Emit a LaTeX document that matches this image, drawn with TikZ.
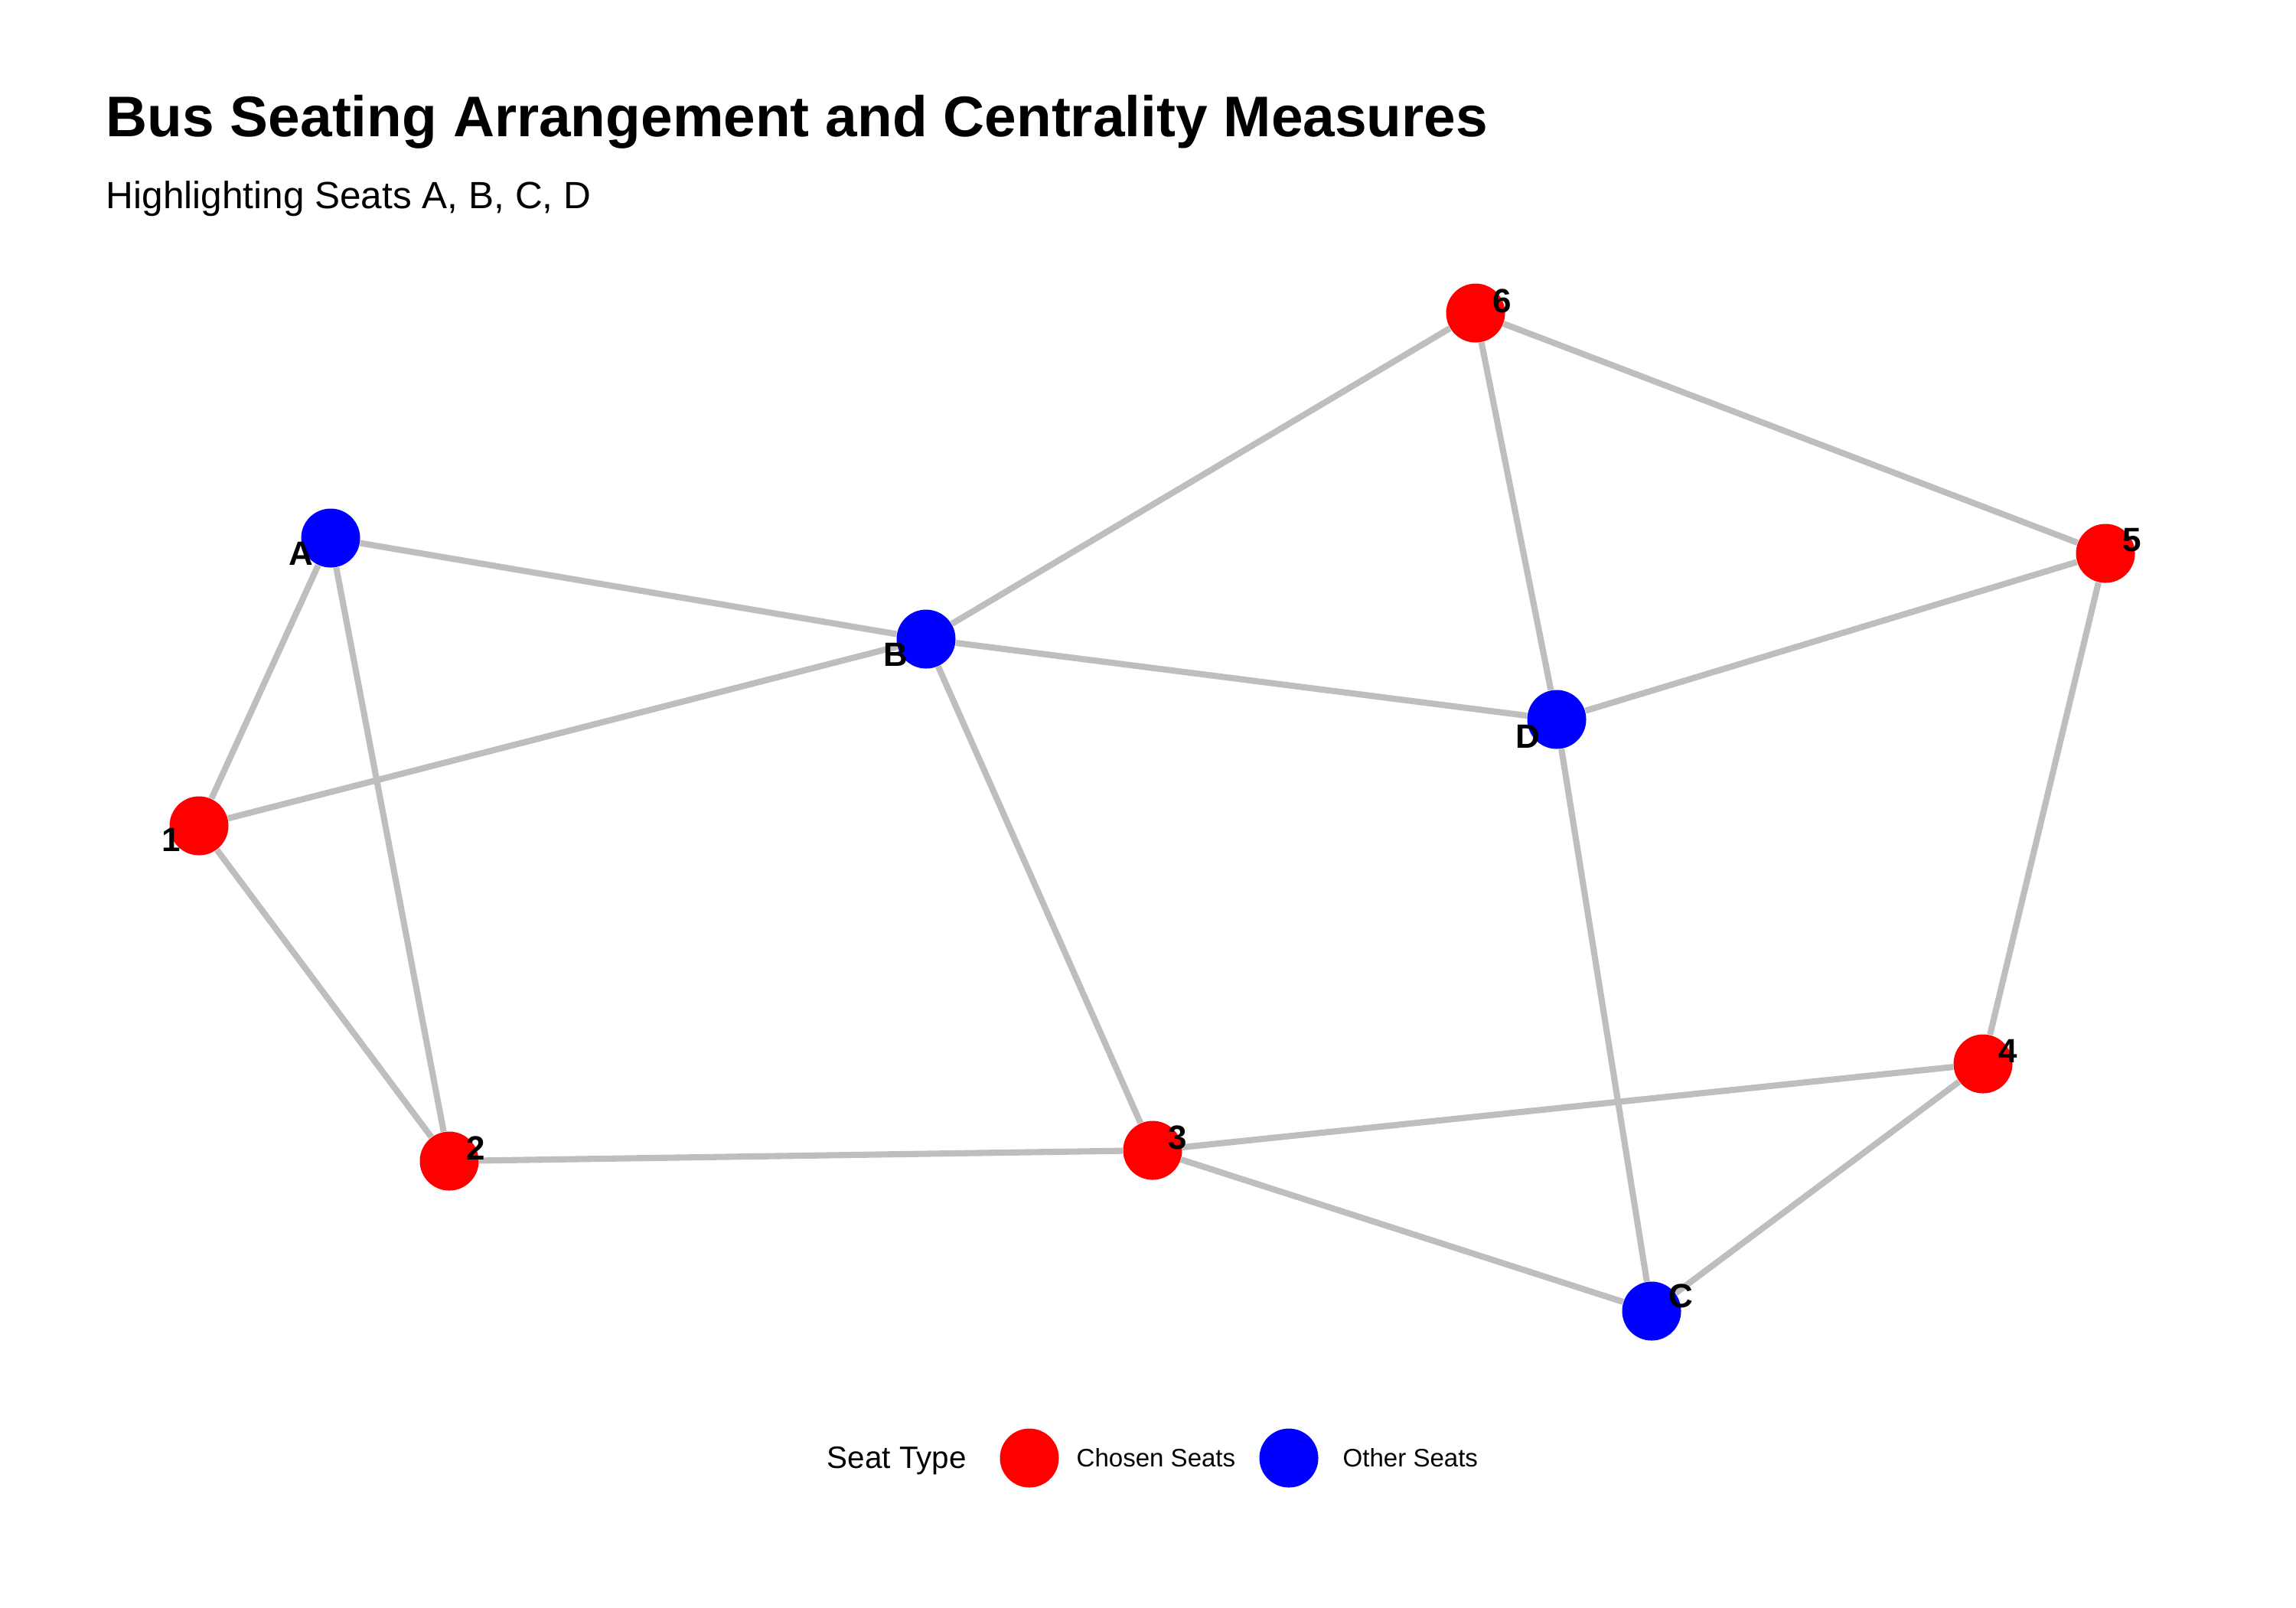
\documentclass[tikz,border=0pt]{standalone}
\usepackage{fontspec}
\setmainfont{Liberation Sans}
\usetikzlibrary{backgrounds}
\definecolor{edgegrey}{RGB}{190,190,190}

\begin{document}
\begin{tikzpicture}[
  seat/.style={circle, minimum size=0.77cm, inner sep=0pt},
  chosen/.style={seat, fill=red},
  other/.style={seat, fill=blue},
  tag/.style={font=\fontsize{12.5}{14}\selectfont\bfseries, inner sep=0pt},
  link/.style={draw=edgegrey, line width=2.3pt},
  font=\fontsize{11.5}{13}\selectfont
]
\useasboundingbox (0,0) rectangle (30,-21);

% title
\node[anchor=base west, inner sep=0pt, font=\fontsize{21.3}{25}\selectfont\bfseries] (title) at (1.38,-1.78) {Bus Seating Arrangement and Centrality Measures};
\node[anchor=base west, inner sep=0pt, font=\fontsize{14.1}{17}\selectfont] (subtitle) at (1.38,-2.72) {Highlighting Seats A, B, C, D};

% seats
\node[other] (A) at (4.32,-7.03) {};
\node[other] (B) at (12.10,-8.35) {};
\node[other] (C) at (21.58,-17.13) {};
\node[other] (D) at (20.34,-9.40) {};
\node[chosen] (s1) at (2.60,-10.79) {};
\node[chosen] (s2) at (5.87,-15.17) {};
\node[chosen] (s3) at (15.06,-15.03) {};
\node[chosen] (s4) at (25.91,-13.90) {};
\node[chosen] (s5) at (27.51,-7.23) {};
\node[chosen] (s6) at (19.28,-4.09) {};

% connections
\begin{scope}[on background layer]
\draw[link] (A) -- (B);
\draw[link] (A) -- (s1);
\draw[link] (A) -- (s2);
\draw[link] (B) -- (s1);
\draw[link] (B) -- (s6);
\draw[link] (B) -- (D);
\draw[link] (B) -- (s3);
\draw[link] (s6) -- (D);
\draw[link] (s6) -- (s5);
\draw[link] (s5) -- (D);
\draw[link] (s5) -- (s4);
\draw[link] (s1) -- (s2);
\draw[link] (s2) -- (s3);
\draw[link] (s3) -- (s4);
\draw[link] (s3) -- (C);
\draw[link] (D) -- (C);
\draw[link] (s4) -- (C);
\end{scope}

% seat labels
\node[tag] (lA) at ([shift={(-0.39,-0.20)}]A) {A};
\node[tag] (lB) at ([shift={(-0.40,-0.20)}]B) {B};
\node[tag] (lD) at ([shift={(-0.38,-0.22)}]D) {D};
\node[tag] (l1) at ([shift={(-0.36,-0.18)}]s1) {1};
\node[tag] (lC) at ([shift={(0.38,0.20)}]C) {C};
\node[tag] (l2) at ([shift={(0.35,0.17)}]s2) {2};
\node[tag] (l3) at ([shift={(0.33,0.17)}]s3) {3};
\node[tag] (l4) at ([shift={(0.33,0.17)}]s4) {4};
\node[tag] (l5) at ([shift={(0.35,0.17)}]s5) {5};
\node[tag] (l6) at ([shift={(0.35,0.16)}]s6) {6};

% legend
\node[anchor=base west, inner sep=0pt] (legtitle) at (10.80,-19.18) {Seat Type};
\node[chosen] (legred) at (13.45,-19.05) {};
\node[anchor=base west, inner sep=0pt, font=\fontsize{9.4}{11}\selectfont] (legchosen) at (14.06,-19.16) {Chosen Seats};
\node[other] (legblue) at (16.84,-19.05) {};
\node[anchor=base west, inner sep=0pt, font=\fontsize{9.4}{11}\selectfont] (legother) at (17.54,-19.16) {Other Seats};
\end{tikzpicture}
\end{document}
